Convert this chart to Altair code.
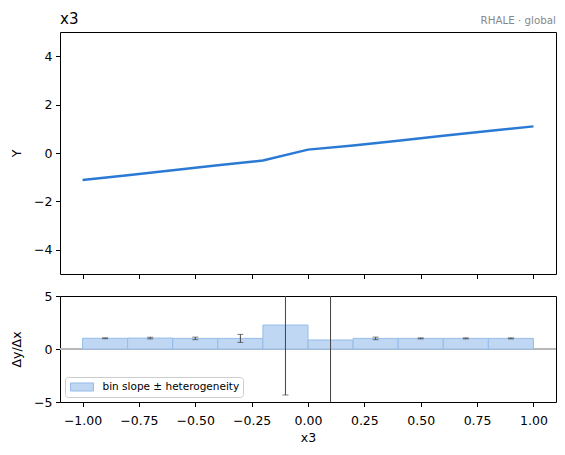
import altair as alt
import pandas as pd

# ---- data ----
grid_x = [-1.0, -0.8, -0.6, -0.4, -0.2, 0.0, 0.2, 0.4, 0.6, 0.8, 1.0]
effect_y = [-1.12, -0.92, -0.71, -0.51, -0.31, 0.14, 0.31, 0.51, 0.71, 0.91, 1.10]

bin_lo = [-1.0, -0.8, -0.6, -0.4, -0.2, 0.0, 0.2, 0.4, 0.6, 0.8]
bin_hi = [-0.8, -0.6, -0.4, -0.2, 0.0, 0.2, 0.4, 0.6, 0.8, 1.0]
bin_slope = [1.01, 1.03, 1.00, 1.00, 2.26, 0.85, 1.00, 1.00, 1.00, 1.00]
bin_het = [0.04, 0.08, 0.12, 0.38, 6.60, 7.00, 0.12, 0.05, 0.05, 0.05]

x_ticks = [-1.0, -0.75, -0.5, -0.25, 0.0, 0.25, 0.5, 0.75, 1.0]
y_ticks_top = [-4, -2, 0, 2, 4]
y_ticks_bottom = [-5, 0, 5]
legend_label = "bin slope ± heterogeneity"
panel_title = "x3"
panel_tag = "RHALE · global"

curve_df = pd.DataFrame({"x": grid_x, "y": effect_y})
bins_df = pd.DataFrame({
    "lo": bin_lo, "hi": bin_hi, "slope": bin_slope, "het": bin_het,
    "label": [legend_label] * len(bin_lo),
})

FONT = "DejaVu Sans"
LINE = "#2a7ad5"
BAR_FILL = "#bfd7f2"
BAR_EDGE = "#95bcea"
ERR = "#444444"

x_scale = alt.Scale(domain=[-1.1, 1.1], nice=False, zero=False)

# ---- top panel ----
line = alt.Chart(curve_df).mark_line(color=LINE, strokeWidth=2.5).encode(
    x=alt.X("x:Q", scale=x_scale,
            axis=alt.Axis(values=x_ticks, labels=False, title=None)),
    y=alt.Y("y:Q", scale=alt.Scale(domain=[-5, 5], nice=False),
            axis=alt.Axis(values=y_ticks_top, format="d", title="Y", titlePadding=10)),
)
title_txt = alt.Chart(pd.DataFrame({"t": [panel_title]})).mark_text(
    align="left", baseline="alphabetic", fontSize=15, color="black", font=FONT
).encode(text="t:N", x=alt.value(0), y=alt.value(-8))
tag = alt.Chart(pd.DataFrame({"t": [panel_tag]})).mark_text(
    align="right", baseline="alphabetic", fontSize=10.3, color="#888888", font=FONT
).encode(text="t:N", x=alt.value(496), y=alt.value(-8))

top = alt.layer(line, title_txt, tag).properties(width=496, height=242)

# ---- bottom panel ----
y_scale_b = alt.Scale(domain=[-5, 5], nice=False)
base_b = alt.Chart(bins_df).transform_calculate(
    mid="(datum.lo + datum.hi) / 2",
    e_lo="datum.slope - datum.het",
    e_hi="datum.slope + datum.het",
)

zero = alt.Chart(bins_df).mark_rule(color="#b8b8b8", strokeWidth=1).encode(
    y=alt.datum(0, scale=y_scale_b)
)

bars = base_b.mark_bar(stroke=BAR_EDGE, strokeWidth=1, opacity=1).encode(
    x=alt.X("lo:Q", scale=x_scale,
            axis=alt.Axis(values=x_ticks, format=".2f", title="x3",
                          labelPadding=7.5, titlePadding=5)),
    x2="hi:Q",
    y=alt.Y("slope:Q", scale=y_scale_b,
            axis=alt.Axis(values=y_ticks_bottom, format="d", title="Δy/Δx", titlePadding=10)),
    y2=alt.datum(0),
    fill=alt.Fill("label:N", scale=alt.Scale(range=[BAR_FILL]),
                  legend=alt.Legend(
                      title=None, orient="bottom-left", offset=5,
                      fillColor="white", strokeColor="#cccccc", cornerRadius=3,
                      padding=3.5, labelFontSize=10.5, labelFont=FONT, labelColor="black",
                      symbolType="M-2,-0.7L2,-0.7L2,0.7L-2,0.7Z", symbolSize=132,
                      symbolStrokeColor=BAR_EDGE, symbolStrokeWidth=1, symbolOpacity=1,
                      symbolOffset=7, labelOffset=14)),
)

err = base_b.mark_rule(color=ERR, strokeWidth=1, clip=True).encode(
    x="mid:Q", y="e_lo:Q", y2="e_hi:Q"
)
cap_lo = base_b.mark_tick(color=ERR, orient="horizontal", size=6, thickness=1, clip=True).encode(
    x="mid:Q", y=alt.Y("e_lo:Q", scale=y_scale_b)
)
cap_hi = base_b.mark_tick(color=ERR, orient="horizontal", size=6, thickness=1, clip=True).encode(
    x="mid:Q", y=alt.Y("e_hi:Q", scale=y_scale_b)
)

bottom = alt.layer(zero, bars, err, cap_lo, cap_hi).properties(width=496, height=106)

chart = alt.vconcat(top, bottom, spacing=22, bounds="flush").resolve_scale(
    fill="independent"
).resolve_legend(fill="independent").properties(
    padding={"left": 10, "top": 11, "right": 5, "bottom": 5}
).configure_view(
    stroke="black", strokeWidth=1
).configure_axis(
    grid=False, domain=False, tickColor="black", tickSize=4.5, tickWidth=1,
    labelFontSize=12.5, labelFont=FONT, labelColor="black", labelPadding=3.5,
    titleFontSize=12.5, titleFont=FONT, titleFontWeight="normal", titleColor="black",
)

chart.save("out.html", embed_options={"renderer": "svg", "actions": False})
